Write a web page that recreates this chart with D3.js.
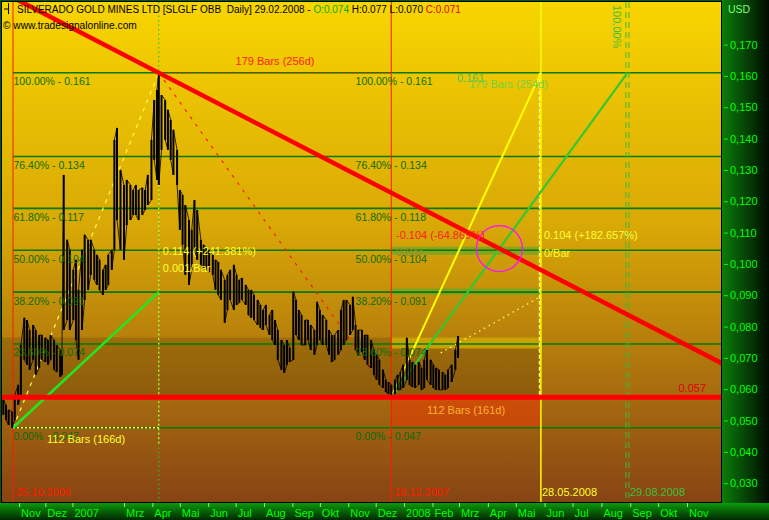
<!DOCTYPE html>
<html><head><meta charset="utf-8">
<script src="https://cdn.jsdelivr.net/npm/d3@7"></script>
<style>
body{margin:0;background:#000;}
svg{display:block;}
text{font-family:"Liberation Sans",Arial,sans-serif;}
</style>
</head><body>
<svg id="c" width="769" height="520"></svg>
<script>
// ---------------- DATA ----------------
const priceDates = [
"2006-10-14","2006-10-17","2006-10-20","2006-10-24","2006-10-27","2006-10-31",
"2006-11-03","2006-11-07","2006-11-10","2006-11-13","2006-11-17","2006-11-20","2006-11-24","2006-11-27",
"2006-12-01","2006-12-04","2006-12-07","2006-12-11","2006-12-14","2006-12-18","2006-12-20","2006-12-22","2006-12-26","2006-12-29",
"2007-01-02","2007-01-05","2007-01-08","2007-01-12","2007-01-15","2007-01-19","2007-01-22","2007-01-26","2007-01-29",
"2007-02-01","2007-02-05","2007-02-08","2007-02-11","2007-02-15","2007-02-18","2007-02-21","2007-02-25",
"2007-03-01","2007-03-04","2007-03-08","2007-03-11","2007-03-14","2007-03-17","2007-03-21","2007-03-24","2007-03-27","2007-03-31",
"2007-04-03","2007-04-06","2007-04-08","2007-04-11","2007-04-15","2007-04-18","2007-04-21","2007-04-24","2007-04-28",
"2007-05-01","2007-05-04","2007-05-07","2007-05-11","2007-05-14","2007-05-17","2007-05-20","2007-05-24","2007-05-27","2007-05-30",
"2007-06-02","2007-06-06","2007-06-09","2007-06-12","2007-06-15","2007-06-19","2007-06-22","2007-06-25","2007-06-29",
"2007-07-02","2007-07-05","2007-07-08","2007-07-12","2007-07-15","2007-07-18","2007-07-21","2007-07-25","2007-07-28","2007-07-31",
"2007-08-03","2007-08-07","2007-08-10","2007-08-13","2007-08-16","2007-08-20","2007-08-23","2007-08-26","2007-08-29",
"2007-09-02","2007-09-05","2007-09-08","2007-09-11","2007-09-15","2007-09-18","2007-09-21","2007-09-25","2007-09-28",
"2007-10-01","2007-10-04","2007-10-08","2007-10-11","2007-10-14","2007-10-17","2007-10-21","2007-10-24","2007-10-27","2007-10-30",
"2007-11-03","2007-11-06","2007-11-09","2007-11-12","2007-11-16","2007-11-19","2007-11-22","2007-11-26","2007-11-29",
"2007-12-02","2007-12-05","2007-12-09","2007-12-12","2007-12-15","2007-12-18","2007-12-22","2007-12-25","2007-12-28","2007-12-31",
"2008-01-04","2008-01-07","2008-01-10","2008-01-13","2008-01-17","2008-01-20","2008-01-23","2008-01-26","2008-01-30",
"2008-02-02","2008-02-05","2008-02-08","2008-02-12","2008-02-15","2008-02-18","2008-02-22","2008-02-26","2008-02-29"];

const priceHigh = [
.0566,.0550,.0534,.0528,.0582,.0614,
.0741,.0828,.0821,.0789,.0805,.0789,.0773,.0773,
.0764,.0757,.0773,.0757,.0741,.0725,.0710,.1284,.1077,.1045,
.0981,.1013,.0917,.1045,.1093,.1077,.1077,.1045,.1029,
.1013,.0981,.0997,.1029,.1045,.1396,.1434,.1300,
.1252,.1268,.1252,.1236,.1252,.1236,.1243,.1236,.1284,.1396,
.1523,.1555,.1610,.1539,.1523,.1492,.1460,.1428,.1364,
.1236,.1220,.1188,.1140,.1109,.1204,.1172,.1077,.1061,.1051,
.1045,.1029,.1013,.1006,.0981,.0949,.0965,.0981,.0997,
.0965,.0949,.0955,.0933,.0917,.0917,.0901,.0885,.0869,.0853,
.0869,.0837,.0853,.0821,.0789,.0757,.0741,.0757,.0732,
.0911,.0885,.0853,.0837,.0821,.0821,.0805,.0789,.0879,
.0853,.0837,.0821,.0789,.0773,.0773,.0789,.0853,.0885,.0885,
.0869,.0895,.0805,.0789,.0789,.0773,.0773,.0757,.0725,
.0710,.0694,.0662,.0630,.0623,.0614,.0630,.0646,.0655,.0678,
.0764,.0694,.0687,.0678,.0687,.0668,.0694,.0725,.0694,
.0678,.0668,.0662,.0655,.0646,.0662,.0678,.0725,.0770];

const priceLow = [
.0518,.0502,.0486,.0477,.0502,.0550,
.0582,.0694,.0678,.0662,.0694,.0646,.0668,.0694,
.0687,.0678,.0694,.0662,.0655,.0639,.0646,.0789,.0821,.0789,
.0821,.0757,.0694,.0789,.0885,.0917,.0965,.0949,.0933,
.0917,.0901,.0917,.0933,.0981,.1045,.1140,.1045,
.1013,.1124,.1140,.1156,.1156,.1140,.1156,.1172,.1188,.1204,
.1332,.1268,.1252,.1364,.1396,.1364,.1332,.1284,.1252,
.1109,.1061,.0965,.0933,.0981,.1045,.1013,.0997,.0987,.0981,
.0974,.0965,.0917,.0901,.0885,.0812,.0853,.0885,.0853,
.0869,.0876,.0885,.0869,.0837,.0828,.0821,.0805,.0796,.0789,
.0805,.0773,.0757,.0741,.0694,.0662,.0652,.0678,.0687,
.0694,.0773,.0757,.0741,.0741,.0757,.0725,.0710,.0741,
.0757,.0741,.0741,.0710,.0687,.0694,.0710,.0725,.0741,.0757,
.0773,.0789,.0725,.0710,.0719,.0694,.0678,.0668,.0646,
.0630,.0614,.0604,.0591,.0585,.0575,.0585,.0598,.0598,.0604,
.0630,.0614,.0607,.0604,.0614,.0598,.0604,.0630,.0614,
.0604,.0598,.0598,.0598,.0598,.0604,.0623,.0662,.0700];

// Fibonacci retracement
const fibLow = 0.0477, fibHigh = 0.161;
const fibRatios = [0, 0.236, 0.382, 0.5, 0.618, 0.764, 1];
const fibLabelsA = ["0.00% - 0.047","23.60% - 0.074","38.20% - 0.091","50.00% - 0.104","61.80% - 0.117","76.40% - 0.134","100.00% - 0.161"];
const fibLabelsB = ["0.00% - 0.047","23.60% - 0.074","38.20% - 0.091","50.00% - 0.104","61.80% - 0.118","76.40% - 0.134","100.00% - 0.161"];

// key dates / levels
const startDate = "2006-10-25", peakDate = "2007-04-08", lowDate = "2007-12-18";
const projDate1 = "2008-05-28", projDate2 = "2008-08-29", fibBLabelDate = "2007-11-09";
const peakValue = 0.161, low2Value = 0.0575, supportValue = 0.0574;
const trendEnd = ["2008-11-01", 0.074];
const projDotStart = ["2008-02-10", 0.0716], projDotEnd = ["2008-05-28", 0.0896];
const zoneTop = 0.0765, zoneBottom = 0.0575;
const bands = [[0.0765,0.0730,"#d8b400",0.75],[0.0922,0.0901,"#6aa62a",0.7],[0.1055,0.1029,"#6aa62a",0.7]];

// axes
const monthTickDates = ["2006-11-01","2006-12-01","2007-01-01","2007-03-01","2007-04-01","2007-05-01","2007-06-01","2007-07-01","2007-08-01","2007-09-01","2007-10-01","2007-11-01","2007-12-01","2008-01-01","2008-02-01","2008-03-01","2008-04-01","2008-05-01","2008-06-01","2008-07-01","2008-08-01","2008-09-01","2008-10-01","2008-11-01"];
const monthTickLabels = ["Nov","Dez","2007","Mrz","Apr","Mai","Jun","Jul","Aug","Sep","Okt","Nov","Dez","2008","Feb","Mrz","Apr","Mai","Jun","Jul","Aug","Sep","Okt","Nov"];
const priceTicks = [0.03,0.04,0.05,0.06,0.07,0.08,0.09,0.10,0.11,0.12,0.13,0.14,0.15,0.16,0.17];
const xAnchorDates = ["2006-10-25","2007-03-01","2008-03-01","2008-11-01"];

// ---------------- CHART ----------------
const parse = d3.utcParse("%Y-%m-%d");
const svg = d3.select("#c");
const P = {l:2, r:721, t:2, b:502};
const x = d3.scaleUtc().domain(xAnchorDates.map(parse)).range([13,124,459,687]);
const y = d3.scaleLinear().domain([0.024,0.1836]).range([P.b,P.t]);
const X = s => x(parse(s));

const defs = svg.append("defs");
const gBg = defs.append("linearGradient").attr("id","bg").attr("x1",0).attr("y1",0).attr("x2",0).attr("y2",1);
[["0%","#f8d500"],["45%","#d8a806"],["100%","#874414"]].forEach(s=>gBg.append("stop").attr("offset",s[0]).attr("stop-color",s[1]));
const gR = defs.append("linearGradient").attr("id","rp").attr("x1",0).attr("y1",0).attr("x2",1).attr("y2",0);
[["0%","#0b7d0b"],["100%","#000a00"]].forEach(s=>gR.append("stop").attr("offset",s[0]).attr("stop-color",s[1]));
const gB = defs.append("linearGradient").attr("id","bp").attr("x1",0).attr("y1",0).attr("x2",0).attr("y2",1);
[["0%","#0c9a0c"],["100%","#012801"]].forEach(s=>gB.append("stop").attr("offset",s[0]).attr("stop-color",s[1]));
defs.append("clipPath").attr("id","clip").append("rect").attr("x",P.l).attr("y",P.t).attr("width",P.r-P.l).attr("height",P.b-P.t);

// frame and panels
svg.append("rect").attr("width",769).attr("height",520).attr("fill","#055a05");
svg.append("rect").attr("x",722).attr("y",0).attr("width",47).attr("height",503).attr("fill","url(#rp)");
svg.append("rect").attr("x",0).attr("y",503).attr("width",769).attr("height",17).attr("fill","url(#bp)");
svg.append("rect").attr("x",P.l-1).attr("y",P.t-1).attr("width",P.r-P.l+2).attr("height",P.b-P.t+2).attr("fill","#000");
svg.append("rect").attr("x",P.l).attr("y",P.t).attr("width",P.r-P.l).attr("height",P.b-P.t).attr("fill","url(#bg)");

const g = svg.append("g").attr("clip-path","url(#clip)");

// shaded zones
g.append("rect").attr("x",P.l).attr("width",X(projDate1)-P.l)
  .attr("y",y(zoneTop)).attr("height",y(zoneBottom)-y(zoneTop)).attr("fill","#000").attr("opacity",0.14);
g.append("rect").attr("x",X(lowDate)).attr("width",X(projDate1)-X(lowDate))
  .attr("y",y(low2Value)).attr("height",y(fibLow)-y(low2Value)).attr("fill","#ff2a00").attr("opacity",0.42);
g.selectAll("rect.band").data(bands).join("rect").attr("class","band")
  .attr("x",X(lowDate)).attr("width",X(projDate1)-X(lowDate)+1)
  .attr("y",d=>y(d[0])).attr("height",d=>y(d[1])-y(d[0])).attr("fill",d=>d[2]).attr("opacity",d=>d[3]);

// fib lines
const fibVals = fibRatios.map(r=>fibLow + r*(fibHigh-fibLow));
g.selectAll("line.fib").data(fibVals).join("line").attr("class","fib")
  .attr("x1",X(startDate)).attr("x2",P.r).attr("y1",d=>y(d)).attr("y2",d=>y(d))
  .attr("stroke","#057a05").attr("stroke-width",1.6);

// vertical marker lines
const vline = (date, col, w, dash, y1, y2, dx=0) => g.append("line")
  .attr("x1",X(date)+dx).attr("x2",X(date)+dx).attr("y1",y1).attr("y2",y2)
  .attr("stroke",col).attr("stroke-width",w).attr("stroke-dasharray",dash);
vline(startDate,"#ff1a00",1,null,P.t,P.b);
vline(lowDate,"#ff1a00",1,null,P.t,P.b);
vline(peakDate,"#30c030",1.2,"1.5,3",P.t,P.b);
vline(peakDate,"#ffff40",1.2,"1.5,3",y(peakValue),y(fibLow)+16);
vline(projDate1,"#ffff00",1.5,null,P.t,P.b);
vline(projDate1,"#ffff90",1.2,"4,2",y(peakValue),y(low2Value),-1.5);
vline(projDate2,"#3cba3c",1,"6,4",P.t,P.b,-1.5);
vline(projDate2,"#3cba3c",1,"6,4",P.t,P.b,1.5);

// measurement lines
const seg = (a, b, col, w, dash) => g.append("line")
  .attr("x1",X(a[0])).attr("y1",y(a[1])).attr("x2",X(b[0])).attr("y2",y(b[1]))
  .attr("stroke",col).attr("stroke-width",w).attr("stroke-dasharray",dash);
seg([startDate,fibLow],[peakDate,peakValue],"#ffff40",1.2,"4,5");
seg([startDate,fibLow],[peakDate,fibLow],"#ffff40",1.3,"2,2");
seg([startDate,fibLow],[peakDate,fibVals[2]],"#22e622",2.6,null);
seg([peakDate,peakValue],[lowDate,low2Value],"#ff1a00",1.2,"3,6");
seg([peakDate,peakValue],[lowDate,peakValue],"#ff1a00",1.2,"1.5,3");
seg([lowDate,low2Value],[projDate1,peakValue],"#ffff00",2,null);
seg([lowDate,low2Value],[projDate2,peakValue],"#33c833",2.2,null);
seg(projDotStart,projDotEnd,"#ffff40",1.3,"1.5,4");

// price bars
const bars = priceDates.map((d,i)=>({x:x(parse(d)), h:y(priceHigh[i]), l:y(priceLow[i])}));
const pts = [];
bars.forEach((b,i)=>{ if(i%2===0){pts.push([b.x,b.l],[b.x,b.h]);} else {pts.push([b.x,b.h],[b.x,b.l]);} });
g.append("path").attr("d",d3.line()(pts)).attr("fill","none").attr("stroke","#000").attr("stroke-width",0.8);
g.selectAll("line.bar").data(bars).join("line").attr("class","bar")
  .attr("x1",d=>d.x).attr("x2",d=>d.x).attr("y1",d=>d.h).attr("y2",d=>d.l)
  .attr("stroke","#000").attr("stroke-width",2);

// support line
g.append("line").attr("x1",P.l).attr("x2",P.r).attr("y1",y(supportValue)).attr("y2",y(supportValue))
  .attr("stroke","#ff0000").attr("stroke-width",5);

// trend line (extended through peak and a later point)
const tx1 = X(peakDate), ty1 = y(peakValue), tx2 = X(trendEnd[0]), ty2 = y(trendEnd[1]);
const slope = (ty2-ty1)/(tx2-tx1);
g.append("line").attr("x1",-50).attr("y1",ty1+slope*(-50-tx1)).attr("x2",800).attr("y2",ty1+slope*(800-tx1))
  .attr("stroke","#ff0000").attr("stroke-width",4.5);

// circle at intersection of trend line and green projection
const gx1 = X(lowDate), gy1 = y(low2Value), gx2 = X(projDate2), gy2 = y(peakValue);
const gs = (gy2-gy1)/(gx2-gx1);
const cx = (gy1 - gs*gx1 - ty1 + slope*tx1)/(slope-gs);
const cy = ty1 + slope*(cx-tx1);
g.append("circle").attr("cx",cx).attr("cy",cy).attr("r",23).attr("fill","none").attr("stroke","#ff10ff").attr("stroke-width",1.3);

// ---------------- TEXT ----------------
const T = (tx, ty, s, col, size=11, anchor="start") => svg.append("text").attr("x",tx).attr("y",ty)
  .attr("fill",col).attr("font-size",size).attr("text-anchor",anchor).style("white-space","pre").text(s);

// fib labels
fibVals.forEach((v,i)=>{
  T(X(startDate)+0.5, y(v)+12.5, fibLabelsA[i], "#0a6e0a", 10.5);
  T(X(fibBLabelDate), y(v)+12.5, fibLabelsB[i], "#0a6e0a", 10.5);
});

T(275, 65, "179 Bars (256d)", "#ff2020", 11, "middle");
T(X(peakDate)+4, 255, "0.114 (+241.381%)", "#ffff30", 11);
T(X(peakDate)+4, 272, "0.001/Bar", "#ffff30", 11);
T(47, 443, "112 Bars (166d)", "#ffff30", 11);
T(396, 239, "-0.104 (-64.869%)", "#ff2020", 11);
T(396, 256, "0/Bar", "#9c8a2a", 11);
T(X(projDate1)+3, 239, "0.104 (+182.657%)", "#ffff30", 11);
T(X(projDate1)+3, 257, "0/Bar", "#ffff30", 11);
T(457, 82, "0.161", "#4ec24e", 11);
T(469, 88, "179 Bars (254d)", "#78d040", 11);
T(427, 414, "112 Bars (161d)", "#ffb030", 11);
T(706, 392, d3.format(".3f")(supportValue), "#e00000", 11, "end");
T(16, 496, "25.10.2006", "#ff1a00", 11);
T(394, 496, "18.12.2007", "#ff1a00", 11);
T(542, 496, "28.05.2008", "#ffff30", 11);
T(630, 496, "29.08.2008", "#3cc03c", 11);
svg.append("text").attr("transform","translate(613,5) rotate(90)").attr("fill","#3cc03c").attr("font-size",11).text("100.00%");

// header
const hd = svg.append("text").attr("x",17).attr("y",13).attr("font-size",10).style("white-space","pre");
hd.append("tspan").attr("fill","#000").text("SILVERADO GOLD MINES LTD [SLGLF OBB  Daily] 29.02.2008 - ");
hd.append("tspan").attr("fill","#00b000").text("O:0.074");
hd.append("tspan").attr("fill","#000").text(" H:0.077 L:0.070 ");
hd.append("tspan").attr("fill","#e00000").text("C:0.071");
svg.append("path").attr("d","M8.5,3V14M4,9H8.5").attr("stroke","#000").attr("stroke-width",1).attr("fill","none");
T(3, 29, "\u00a9 www.tradesignalonline.com", "#000", 10.2);

// ---------------- AXES ----------------
const ay = svg.append("g").attr("transform","translate(724,0)")
  .call(d3.axisRight(y).tickValues(priceTicks).tickSize(4).tickPadding(2)
    .tickFormat(d=>d3.format(".3f")(d).replace(".",",")));
ay.select(".domain").remove();
ay.selectAll("line").attr("stroke","#00ff00");
ay.selectAll("text").attr("fill","#00ff00").attr("font-size",11).attr("font-family","Liberation Sans, Arial, sans-serif");
T(728, 13, "USD", "#7cff7c", 10.5);

const ax = svg.append("g").attr("transform","translate(0,503)")
  .call(d3.axisBottom(x).tickValues(monthTickDates.map(parse)).tickSize(4)
    .tickFormat((d,i)=>monthTickLabels[i]));
ax.select(".domain").remove();
ax.selectAll("line").attr("stroke","#7cff7c");
ax.selectAll("text").attr("fill","#00ff00").attr("font-size",11).attr("font-family","Liberation Sans, Arial, sans-serif")
  .attr("text-anchor","start").attr("x",1.5).attr("dy",null).attr("y",14);
</script>
</body></html>
